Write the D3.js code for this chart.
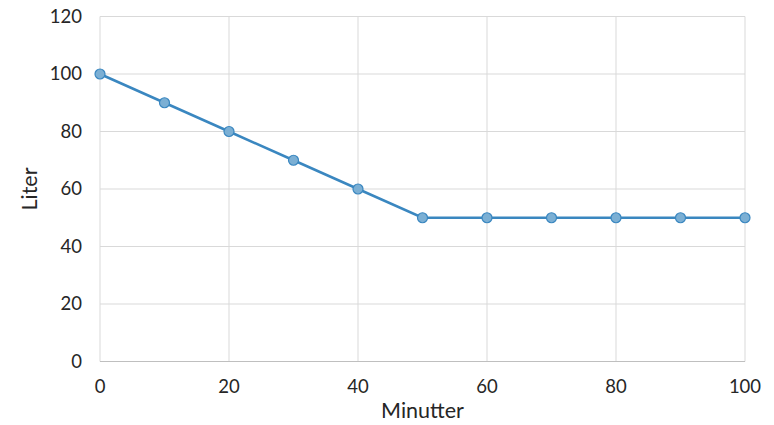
<!DOCTYPE html>
<html>
<head>
<meta charset="utf-8">
<script src="https://cdn.jsdelivr.net/npm/d3@7"></script>
<style>
  html, body { margin: 0; padding: 0; background: #fff; }
  svg { display: block; font-family: Lato, "Open Sans", sans-serif; }
</style>
</head>
<body>
<svg id="chart" width="774" height="425"></svg>
<script>
const minutes = [0, 10, 20, 30, 40, 50, 60, 70, 80, 90, 100];
const liters = [100, 90, 80, 70, 60, 50, 50, 50, 50, 50, 50];
const xTicks = [0, 20, 40, 60, 80, 100];
const yTicks = [0, 20, 40, 60, 80, 100, 120];
const xTitle = "Minutter";
const yTitle = "Liter";

const svg = d3.select("#chart");
const pLeft = 100, pRight = 745, pTop = 16.5, pBottom = 361.5;
const x = d3.scaleLinear().domain([0, 100]).range([pLeft, pRight]);
const y = d3.scaleLinear().domain([0, 120]).range([pBottom, pTop]);

// gridlines
svg.append("g").selectAll("line").data(yTicks.filter(d => d > 0)).join("line")
  .attr("x1", pLeft).attr("x2", pRight)
  .attr("y1", d => y(d)).attr("y2", d => y(d))
  .attr("stroke", "#d9d9d9").attr("stroke-width", 1);
svg.append("g").selectAll("line").data(xTicks).join("line")
  .attr("x1", d => x(d)).attr("x2", d => x(d))
  .attr("y1", pTop).attr("y2", pBottom)
  .attr("stroke", "#d9d9d9").attr("stroke-width", 1);
// x axis line
svg.append("line").attr("x1", pLeft).attr("x2", pRight)
  .attr("y1", pBottom).attr("y2", pBottom)
  .attr("stroke", "#bfbfbf").attr("stroke-width", 1);

// tick labels
svg.append("g").selectAll("text").data(yTicks).join("text")
  .attr("x", 82).attr("y", d => y(d)).attr("dy", "0.35em")
  .attr("text-anchor", "end").attr("font-size", 18.5).attr("fill", "#262626")
  .text(d => d);
svg.append("g").selectAll("text").data(xTicks).join("text")
  .attr("x", d => x(d)).attr("y", 393)
  .attr("text-anchor", "middle").attr("font-size", 18.5).attr("fill", "#262626")
  .text(d => d);

// titles
svg.append("text").attr("x", (pLeft + pRight) / 2).attr("y", 418)
  .attr("text-anchor", "middle").attr("font-size", 21.5).attr("fill", "#262626")
  .text(xTitle);
svg.append("text")
  .attr("transform", `translate(37,${(pTop + pBottom) / 2}) rotate(-90)`)
  .attr("text-anchor", "middle").attr("font-size", 21.5).attr("fill", "#262626")
  .text(yTitle);

// line
const data = minutes.map((m, i) => ({ m, v: liters[i] }));
svg.append("path").datum(data)
  .attr("d", d3.line().x(d => x(d.m)).y(d => y(d.v)))
  .attr("fill", "none").attr("stroke", "#3a87c0").attr("stroke-width", 2.5);
svg.append("g").selectAll("circle").data(data).join("circle")
  .attr("cx", d => x(d.m)).attr("cy", d => y(d.v)).attr("r", 5)
  .attr("fill", "#7bafd4").attr("stroke", "#3a87c0").attr("stroke-width", 1.2);
</script>
</body>
</html>
